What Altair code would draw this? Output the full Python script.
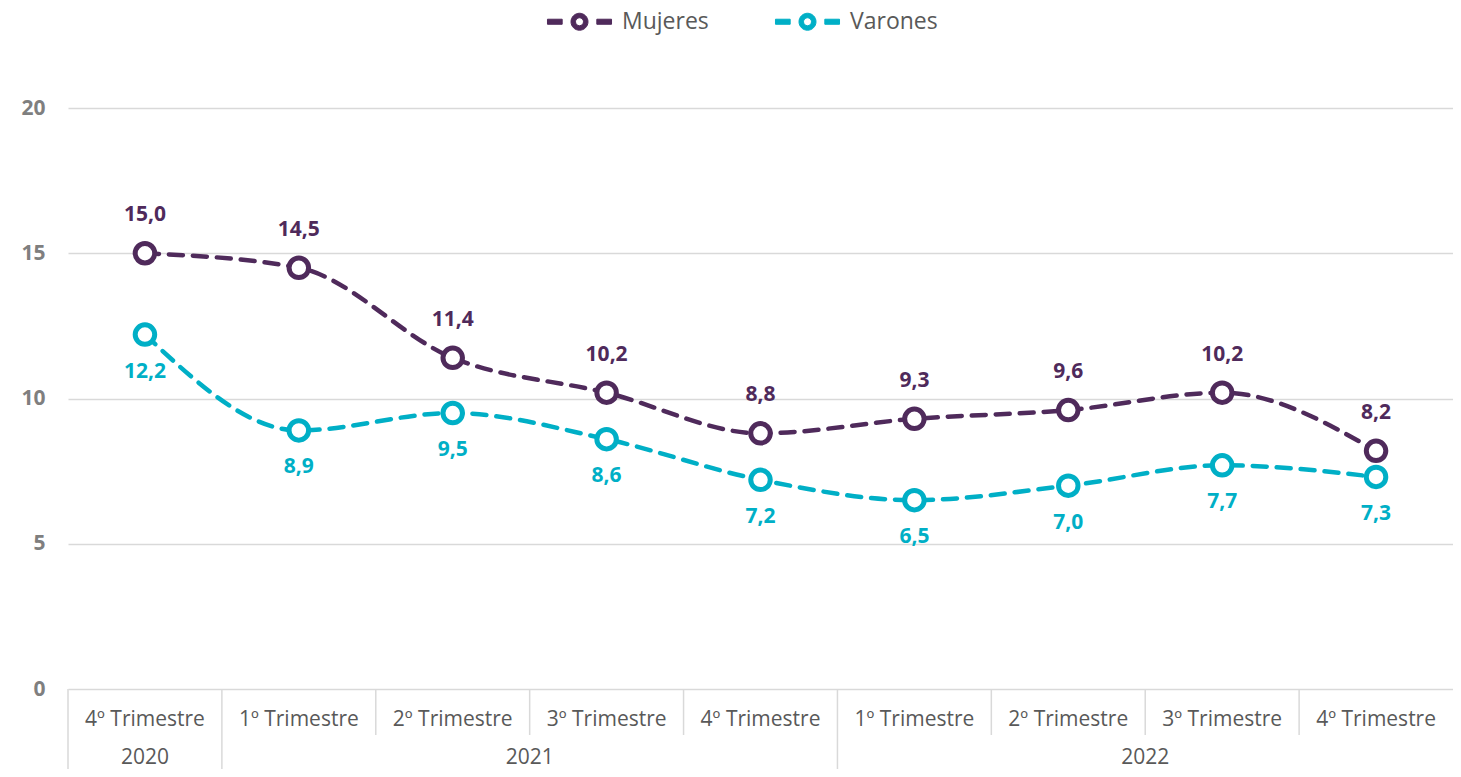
import altair as alt
import pandas as pd

# ---- data ----
quarters = ["4º Trimestre", "1º Trimestre", "2º Trimestre", "3º Trimestre", "4º Trimestre",
            "1º Trimestre", "2º Trimestre", "3º Trimestre", "4º Trimestre"]
years = ["2020", "2021", "2021", "2021", "2021", "2022", "2022", "2022", "2022"]
mujeres = [15.0, 14.5, 11.4, 10.2, 8.8, 9.3, 9.6, 10.2, 8.2]
varones = [12.2, 8.9, 9.5, 8.6, 7.2, 6.5, 7.0, 7.7, 7.3]
series = ["Mujeres", "Varones"]
colors = ["#4F2A5B", "#00AFC6"]
y_ticks = [0, 5, 10, 15, 20]

# ---- tables ----
rows = []
for i in range(len(quarters)):
    for s, vals in zip(series, [mujeres, varones]):
        rows.append(dict(idx=i, serie=s, value=vals[i],
                         label=f"{vals[i]:.1f}".replace(".", ",")))
df = pd.DataFrame(rows)

q_df = pd.DataFrame(dict(idx=list(range(len(quarters))), quarter=quarters))

year_rows = []
for y in dict.fromkeys(years):
    ids = [i for i, yy in enumerate(years) if yy == y]
    year_rows.append(dict(year=y, center=(min(ids) + max(ids)) / 2))
y_df = pd.DataFrame(year_rows)

sep_rows = []
for i in range(len(quarters)):
    long = i == 0 or years[i] != years[i - 1]
    sep_rows.append(dict(b=i - 0.5, long=long))
sep_df = pd.DataFrame(sep_rows)

W, H = 1385, 581
FONT = "Open Sans"
GRID = "#d9d9d9"
TXT = "#595959"

xscale = alt.Scale(domain=[-0.5, len(quarters) - 0.5], nice=False, zero=False)
yscale = alt.Scale(domain=[0, 20], nice=False)
cscale = alt.Scale(domain=series, range=colors)

# legend glyph: two dash bars and a ring (annulus), drawn as filled shapes
legend_path = ("M-3.05,-0.24H-1.65V0.24H-3.05Z"
               "M1.65,-0.24H3.05V0.24H1.65Z"
               "M0.81,0A0.81,0.81,0,1,1,-0.81,0A0.81,0.81,0,1,1,0.81,0Z"
               "M0.38,0A0.38,0.38,0,1,0,-0.38,0A0.38,0.38,0,1,0,0.38,0Z")

color_legend = alt.Color(
    "serie:N",
    scale=cscale,
    legend=alt.Legend(
        title=None, orient="none", direction="horizontal",
        legendX=500, legendY=-98,
        symbolType=legend_path, symbolSize=441, symbolStrokeWidth=1,
        labelOffset=31, columnPadding=64,
        labelFont=FONT, labelFontSize=23, labelColor=TXT,
    ),
)
color_nl = alt.Color("serie:N", scale=cscale, legend=None)

base = alt.Chart(df).encode(
    x=alt.X("idx:Q", scale=xscale, axis=None),
    y=alt.Y("value:Q", scale=yscale,
            axis=alt.Axis(values=y_ticks, grid=True, gridColor=GRID, gridWidth=1.5,
                          domain=False, ticks=False, labelPadding=23,
                          labelFont=FONT, labelFontSize=21, labelFontWeight="bold",
                          labelColor="#7f7f7f", title=None)),
)

# hidden bottom copy of the points carries the legend (first colour layer decides it)
points_legend = base.mark_point(shape="circle", filled=False, fill="white", fillOpacity=1,
                                opacity=1, size=250, strokeWidth=1).encode(color=color_legend)
lines = base.mark_line(strokeWidth=4.5, strokeDash=[14, 10], strokeCap="round",
                       interpolate="monotone").encode(color=color_nl)
points = base.mark_point(shape="circle", filled=False, fill="white", fillOpacity=1,
                         opacity=1, size=380, strokeWidth=5).encode(color=color_nl)

lab_m = base.transform_filter(alt.datum.serie == "Mujeres").mark_text(
    dy=-38, font=FONT, fontSize=21, fontWeight="bold", baseline="middle"
).encode(text="label:N", color=color_nl)
lab_v = base.transform_filter(alt.datum.serie == "Varones").mark_text(
    dy=37, font=FONT, fontSize=21, fontWeight="bold", baseline="middle"
).encode(text="label:N", color=color_nl)

q_text = alt.Chart(q_df).mark_text(font=FONT, fontSize=21, color=TXT, baseline="middle").encode(
    x=alt.X("idx:Q", scale=xscale, axis=None),
    y=alt.value(H + 31),
    text="quarter:N",
)
y_text = alt.Chart(y_df).mark_text(font=FONT, fontSize=21, color=TXT, baseline="middle").encode(
    x=alt.X("center:Q", scale=xscale, axis=None),
    y=alt.value(H + 69),
    text="year:N",
)
sep_short = alt.Chart(sep_df).transform_filter(~alt.datum.long).mark_rule(
    color=GRID, strokeWidth=1.5).encode(
    x=alt.X("b:Q", scale=xscale, axis=None),
    y=alt.value(H), y2=alt.value(H + 46),
)
sep_long = alt.Chart(sep_df).transform_filter(alt.datum.long).mark_rule(
    color=GRID, strokeWidth=1.5).encode(
    x=alt.X("b:Q", scale=xscale, axis=None),
    y=alt.value(H), y2=alt.value(H + 90),
)

chart = alt.layer(
    sep_short, sep_long, q_text, y_text, points_legend, lines, points, lab_m, lab_v
).properties(
    width=W, height=H,
    autosize=alt.AutoSizeParams(type="none"),
    padding={"left": 60, "top": 100, "right": 0, "bottom": 80},
).configure_view(stroke=None)

chart.save("out.html", embed_options={"renderer": "svg", "actions": False})
